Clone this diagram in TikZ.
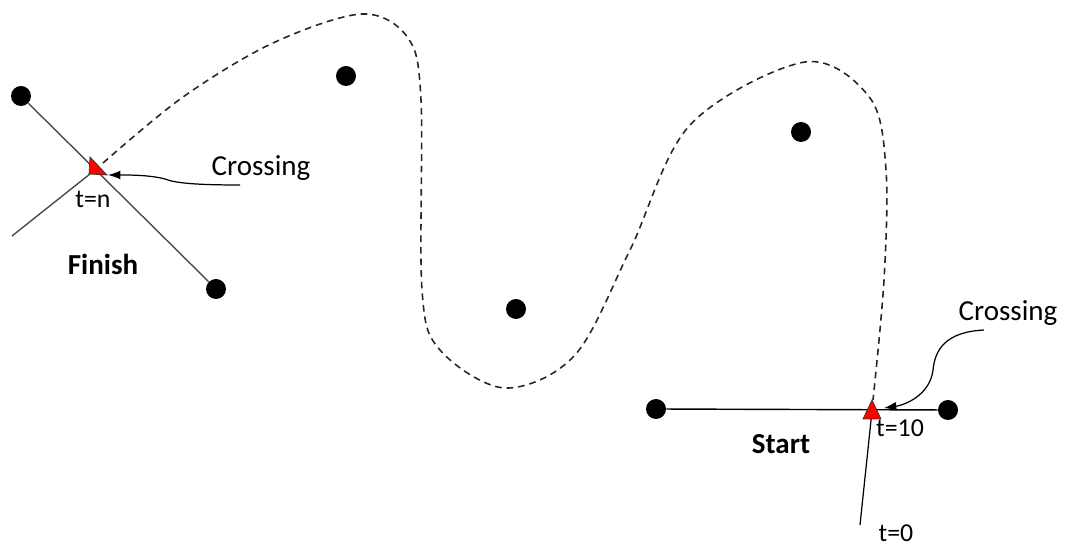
\documentclass[tikz,border=0pt]{standalone}
\usepackage{fontspec}
\setmainfont{Carlito}
\usetikzlibrary{arrows.meta}
\begin{document}
\begin{tikzpicture}[x = 0.02cm, y = -0.02cm,
  dot/.style = {circle, fill = black, inner sep = 0pt, minimum size = 0.4cm},
  lbl/.style = {font = \fontsize{14.7}{16}\selectfont, inner sep = 0pt},
  big/.style = {font = \fontsize{16.5}{18}\selectfont, inner sep = 0pt},
  bigbold/.style = {font = \fontsize{16.5}{18}\selectfont\bfseries, inner sep = 0pt},
  path/.style = {dash pattern = on 3.8pt off 2.8pt, line width = 0.9pt, black!85},
  tip/.style = {-{Latex[length = 7pt, width = 5pt]}, line width = 0.7pt}]
\useasboundingbox (0,0) rectangle (1065,546);
\node[dot] (f1) at (21,96) {};
\node[dot] (f2) at (216,289) {};
\node[dot] (p1) at (346,76) {};
\node[dot] (p2) at (516,309) {};
\node[dot] (p3) at (801,132) {};
\node[dot] (s1) at (656,409) {};
\node[dot] (s2) at (948,410) {};
\coordinate (fin) at (95,170);
\coordinate (fin0) at (12,236);
\coordinate (sta) at (872,411);
\coordinate (sta0) at (860,525);
\draw[black!70, line width = 0.8pt] (f1) -- (f2);
\draw[black!70, line width = 0.8pt] (fin0) -- (fin);
\draw[line width = 0.8pt] (s1) -- (s2);
\draw[line width = 0.7pt] (sta0) -- (sta);
\draw[path] plot[smooth, tension = 0.55] coordinates {(103,163) (183,97) (273,43) (362,14) (408,38) (421,100) (422,290) (440,350) (505,388) (575,355) (630,250) (690,125) (805,62) (870,98) (886,170) (884,280) (873,400)};
\filldraw[fill = red, draw = black!80, line width = 0.4pt] (fin) ++ (-5,-13) --++ (-1,17) --++ (18,1) -- cycle;
\filldraw[fill = red, draw = black!80, line width = 0.4pt] (sta) ++ (0,-11) --++ (-9,19) --++ (18,0) -- cycle;
\node[big] (c1) at (261,168) {Crossing};
\node[big] (c2) at (1008,313) {Crossing};
\node[lbl] (tn) at (93,199) {t=n};
\node[lbl] (t10) at (900,428) {t=10};
\node[lbl] (t0) at (896,533) {t=0};
\node[bigbold] (fl) at (103,264) {Finish};
\node[bigbold] (sl) at (781,444) {Start};
\draw[tip] (240,185) .. controls (195,185) and (175,183) .. (165,179) .. controls (150,175) and (130,175) .. (108,175);
\draw[tip] (984,330) .. controls (945,332) and (935,350) .. (933,370) .. controls (930,395) and (905,405) .. (884,408);
\end{tikzpicture}
\end{document}
